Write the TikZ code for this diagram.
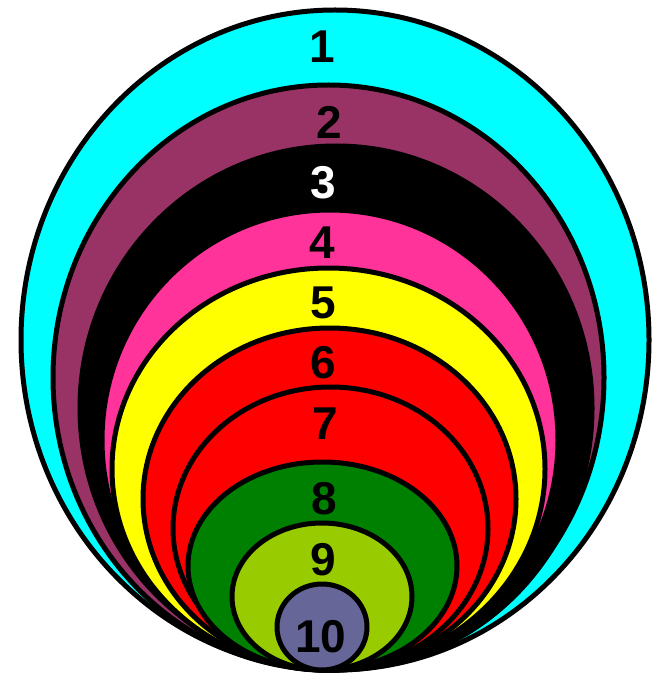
\documentclass[tikz,border=0pt]{standalone}
\usepackage{fontspec}
\setmainfont{Liberation Sans}
\definecolor{cCyan}{HTML}{00FFFF}
\definecolor{cPurple}{HTML}{993366}
\definecolor{cPink}{HTML}{FF3399}
\definecolor{cYellow}{HTML}{FFFF00}
\definecolor{cRed}{HTML}{FF0000}
\definecolor{cGreen}{HTML}{008000}
\definecolor{cLime}{HTML}{99CC00}
\definecolor{cSlate}{HTML}{666699}
\tikzset{
  ring/.style={draw=black, line width=5pt},
  num/.style={font=\fontsize{46}{46}\selectfont\bfseries, text=black, inner sep=0pt}
}
\begin{document}
\begin{tikzpicture}[x=1pt,y=-1pt]
\useasboundingbox (0,0) rectangle (652,676);
\fill[white] (0,0) rectangle (652,676);
\filldraw[ring, fill=cCyan]   (335,340)   ellipse [x radius=314,   y radius=330];
\filldraw[ring, fill=cPurple] (328.5,377.5) ellipse [x radius=275.5, y radius=292.5];
\filldraw[ring, fill=black]   (336,408)   ellipse [x radius=256,   y radius=262];
\filldraw[ring, fill=cPink]   (330,440)   ellipse [x radius=228,   y radius=230];
\filldraw[ring, fill=cYellow] (328.5,469) ellipse [x radius=216.5, y radius=201];
\filldraw[ring, fill=cRed]    (329.5,499) ellipse [x radius=186.5, y radius=171];
\filldraw[ring, fill=cRed]    (330.5,528.5) ellipse [x radius=157.5, y radius=141.5];
\filldraw[ring, fill=cGreen]  (322.5,566) ellipse [x radius=134.5, y radius=104];
\filldraw[ring, fill=cLime]   (322,596.5) ellipse [x radius=90,    y radius=73.5];
\filldraw[ring, fill=cSlate]  (322,627)   ellipse [x radius=45,    y radius=43];
\node[num] (n1) at (322,47) {1};
\node[num] (n2) at (329,122) {2};
\node[num, text=white] (n3) at (323,183) {3};
\node[num] (n4) at (322,243) {4};
\node[num] (n5) at (323,303) {5};
\node[num] (n6) at (323,363) {6};
\node[num] (n7) at (325,424) {7};
\node[num] (n8) at (324,499) {8};
\node[num] (n9) at (323,560) {9};
\node[num] (n10) at (321,637) {10};
\end{tikzpicture}
\end{document}
